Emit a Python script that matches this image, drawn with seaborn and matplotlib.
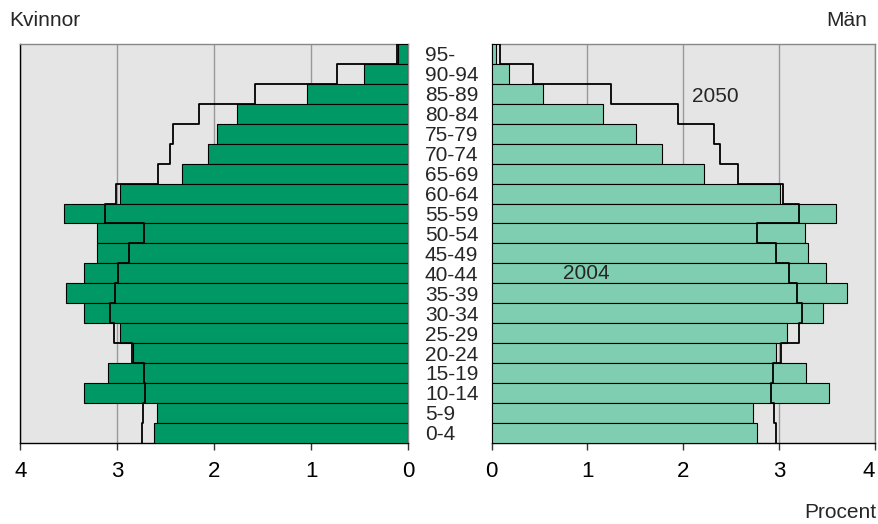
import numpy as np
import pandas as pd
import matplotlib
matplotlib.use("Agg")
import matplotlib.pyplot as plt
import seaborn as sns

# age groups, youngest first
ages = ["0-4", "5-9", "10-14", "15-19", "20-24", "25-29", "30-34", "35-39",
        "40-44", "45-49", "50-54", "55-59", "60-64", "65-69", "70-74",
        "75-79", "80-84", "85-89", "90-94", "95-"]

# percent of population, 2004 (bars)
women_2004 = [2.62, 2.59, 3.34, 3.10, 2.84, 2.97, 3.34, 3.53, 3.35, 3.21,
              3.21, 3.55, 2.97, 2.33, 2.07, 1.97, 1.77, 1.04, 0.46, 0.11]
men_2004 = [2.77, 2.73, 3.52, 3.28, 2.96, 3.08, 3.46, 3.70, 3.49, 3.30,
            3.27, 3.59, 3.01, 2.21, 1.78, 1.51, 1.16, 0.54, 0.18, 0.05]

# projection 2050 (step line)
women_2050 = [2.75, 2.74, 2.72, 2.73, 2.85, 3.04, 3.08, 3.03, 2.99, 2.88,
              2.73, 3.13, 3.01, 2.58, 2.46, 2.43, 2.16, 1.58, 0.74, 0.12]
men_2050 = [2.96, 2.94, 2.91, 2.93, 3.02, 3.20, 3.24, 3.18, 3.10, 2.96,
            2.77, 3.20, 3.04, 2.57, 2.38, 2.32, 1.94, 1.24, 0.43, 0.09]

x_ticks = [0, 1, 2, 3, 4]

order = ages[::-1]  # oldest at top
df = pd.DataFrame({"age": ages, "women": women_2004, "men": men_2004,
                   "women_2050": women_2050, "men_2050": men_2050})
df = df.set_index("age").loc[order].reset_index()

sns.set_style("white")
plt.rcParams["font.family"] = ["Liberation Sans", "DejaVu Sans"]

fig = plt.figure(figsize=(8.79, 5.24), dpi=100)
ax_l = fig.add_axes([0.0233, 0.1551, 0.4412, 0.7609])
ax_r = fig.add_axes([0.5592, 0.1551, 0.4366, 0.7609])

dark_green = "#009966"
light_green = "#80CEB2"
bg = "#E5E5E5"


def step_line(ax, values):
    xs, ys = [0], [-0.5]
    for p, v in enumerate(values):
        xs += [v, v]
        ys += [p - 0.5, p + 0.5]
    ax.plot(xs, ys, color="black", lw=1.3, zorder=5)


for ax, col, color in [(ax_l, "women", dark_green), (ax_r, "men", light_green)]:
    ax.set_facecolor(bg)
    sns.barplot(data=df, x=col, y="age", order=order, orient="h", color=color,
                saturation=1, width=1.0, edgecolor="black", linewidth=0.8,
                ax=ax, zorder=3)
    step_line(ax, df[col + "_2050"].values)
    ax.set_ylim(len(order) - 0.5, -0.5)
    ax.set_xticks(x_ticks)
    ax.set_xlabel("")
    ax.set_ylabel("")
    ax.grid(axis="x", color="#999999", lw=1, zorder=0)
    ax.set_axisbelow(True)
    ax.tick_params(axis="x", bottom=True, length=5, width=1, pad=8,
                   labelsize=16, color="#333333", labelcolor="black")
    for s in ax.spines.values():
        s.set_color("#888888")
        s.set_linewidth(1)
    ax.spines["bottom"].set_color("black")

ax_l.set_xlim(4, 0)
ax_r.set_xlim(0, 4)
ax_l.spines["left"].set_color("black")

# keep the last "4" inside the figure
ax_r.get_xticklabels()[-1].set_horizontalalignment("right")

# age labels between the two panels
ax_l.yaxis.tick_right()
ax_l.tick_params(axis="y", length=0, pad=12, labelsize=15)
for lab in ax_l.get_yticklabels():
    lab.set_horizontalalignment("left")
ax_r.tick_params(axis="y", left=False, labelleft=False)

# year labels (y = row position, 95- at 0)
ax_r.text(2.09, 2.15, "2050", fontsize=15, ha="left", va="center", zorder=6)
ax_r.text(0.75, 11.0, "2004", fontsize=15, ha="left", va="center", zorder=6)

fig.text(9 / 879, 1 - 21 / 524, "Kvinnor", fontsize=15, ha="left", va="center")
fig.text(867 / 879, 1 - 21 / 524, "Män", fontsize=15, ha="right", va="center")
fig.text(876 / 879, 1 - 512 / 524, "Procent", fontsize=15, ha="right",
         va="center")

fig.savefig("out.png", dpi=100)
